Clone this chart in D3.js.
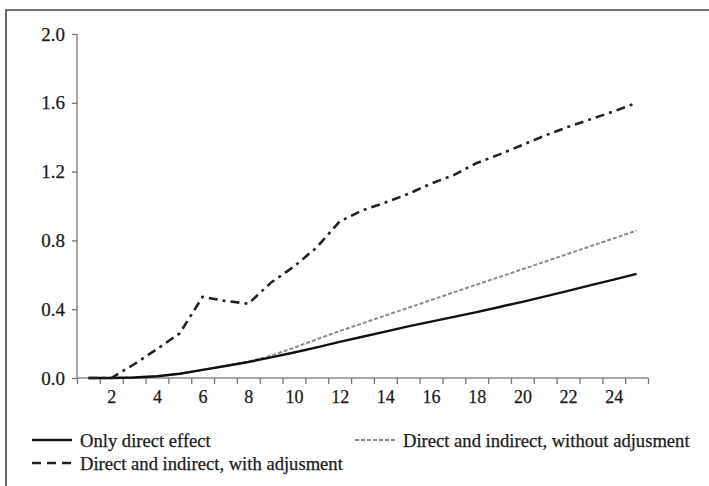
<!DOCTYPE html>
<html><head><meta charset="utf-8">
<script src="https://cdn.jsdelivr.net/npm/d3@7"></script>
<style>
html,body{margin:0;padding:0;background:#fff;}
svg{display:block;}
text{font-family:"Liberation Serif","Times New Roman",serif;fill:#1a1a1a;stroke:#1a1a1a;stroke-width:0.25;}
</style></head>
<body>
<svg id="chart" width="709" height="486"></svg>
<script>
const periods = d3.range(1, 26);
const onlyDirect = [0,0,0.003,0.01,0.025,0.047,0.07,0.093,0.12,0.148,0.178,0.21,0.24,0.27,0.30,0.328,0.355,0.383,0.413,0.443,0.475,0.507,0.54,0.572,0.605];
const withoutAdj = [0,0,0.003,0.01,0.025,0.047,0.07,0.095,0.13,0.176,0.225,0.273,0.318,0.363,0.408,0.453,0.498,0.543,0.588,0.632,0.677,0.722,0.767,0.812,0.857];
const withAdj = [0,0,0.08,0.168,0.26,0.472,0.448,0.432,0.555,0.648,0.76,0.91,0.975,1.02,1.07,1.13,1.18,1.25,1.30,1.355,1.41,1.46,1.505,1.55,1.60];
const yTicks = [0,0.4,0.8,1.2,1.6,2.0];
const xLabels = [2,4,6,8,10,12,14,16,18,20,22,24];
const seriesNames = ["Only direct effect","Direct and indirect, without adjusment","Direct and indirect, with adjusment"];

const svg = d3.select("#chart");
const L = 77, R = 648, T = 34, B = 378;

// outer frame
svg.append("path").attr("d","M6,486 L6,10 L709,10").attr("fill","none").attr("stroke","#444").attr("stroke-width",1.6);

const xBand = d3.scaleBand().domain(periods).range([L,R]).padding(0);
const xLin = d3.scaleLinear().domain([0.5,25.5]).range([L,R]);
const y = d3.scaleLinear().domain([0,2]).range([B,T]);
const xc = d => xBand(d) + xBand.bandwidth()/2;

// y axis
const yAxis = svg.append("g").attr("transform",`translate(${L},0)`)
  .call(d3.axisLeft(y).tickValues(yTicks).tickFormat(d3.format(".1f")).tickSize(5).tickPadding(7));
yAxis.select(".domain").attr("stroke","#888").attr("stroke-width",1.5).attr("d",`M0,${T}V${B}`);
yAxis.selectAll(".tick line").attr("stroke","#777").attr("stroke-width",1.3);
yAxis.selectAll(".tick text").attr("font-size",19).attr("font-family","Liberation Serif").attr("fill","#1a1a1a");

// x axis tick marks at band boundaries
const boundaries = d3.range(0.5, 26, 1);
const xAxis = svg.append("g").attr("transform",`translate(0,${B})`)
  .call(d3.axisBottom(xLin).tickValues(boundaries).tickFormat("").tickSize(6));
xAxis.select(".domain").attr("stroke","#888").attr("stroke-width",1.5).attr("d",`M${L},0H${R}`);
xAxis.selectAll(".tick line").attr("stroke","#777").attr("stroke-width",1.3);

// x labels at band centers
const xLab = svg.append("g").attr("transform",`translate(0,${B})`)
  .call(d3.axisBottom(xLin).tickValues(xLabels).tickFormat(d3.format("d")).tickSize(0).tickPadding(12));
xLab.select(".domain").remove();
xLab.selectAll(".tick text").attr("font-size",18).attr("font-family","Liberation Serif").attr("fill","#1a1a1a");

const line = d3.line().x((d,i)=>xc(periods[i])).y(d=>y(d));

svg.append("path").datum(withoutAdj).attr("d",line).attr("fill","none")
  .attr("stroke","#8c8c8c").attr("stroke-width",2).attr("stroke-dasharray","4,2");
svg.append("path").datum(onlyDirect).attr("d",line).attr("fill","none")
  .attr("stroke","#111").attr("stroke-width",2.4);
svg.append("path").datum(withAdj).attr("d",line).attr("fill","none")
  .attr("stroke","#222").attr("stroke-width",2.6).attr("stroke-dasharray","9,5,3,5");

// legend
const leg = [
  {name:seriesNames[0], x:32, y:440, stroke:"#111", w:2.4, dash:null},
  {name:seriesNames[1], x:355, y:440, stroke:"#8c8c8c", w:2, dash:"4,2"},
  {name:seriesNames[2], x:32, y:463, stroke:"#222", w:2.4, dash:"9,6"}
];
const lg = svg.append("g").selectAll("g").data(leg).join("g");
lg.append("line").attr("x1",d=>d.x).attr("x2",d=>d.x+40).attr("y1",d=>d.y).attr("y2",d=>d.y)
  .attr("stroke",d=>d.stroke).attr("stroke-width",d=>d.w).attr("stroke-dasharray",d=>d.dash);
lg.append("text").attr("x",d=>d.x+48).attr("y",d=>d.y).attr("dy","0.35em")
  .attr("font-size",18.6).text(d=>d.name);
</script>
</body></html>
